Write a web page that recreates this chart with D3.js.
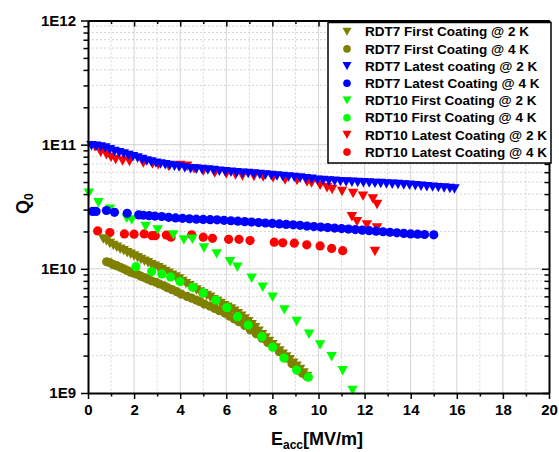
<!DOCTYPE html>
<html><head><meta charset="utf-8">
<script src="https://cdn.jsdelivr.net/npm/d3@7"></script>
<style>body{margin:0;background:#fff;} svg{display:block;font-family:"Liberation Sans",Arial,sans-serif;}</style>
</head><body>
<svg id="chart" width="559" height="452"></svg>
<script>
// ---------- DATA ----------
const seriesNames = ["RDT7 First Coating @ 2 K","RDT7 First Coating @ 4 K","RDT7 Latest coating @ 2 K","RDT7 Latest Coating @ 4 K","RDT10 First Coating @ 2 K","RDT10 First Coating @ 4 K","RDT10 Latest Coating @ 2 K","RDT10 Latest Coating @ 4 K"];
const seriesColors = ["#808000","#808000","#0000ff","#0000ff","#00ff00","#00ff00","#ff0000","#ff0000"];
const seriesShapes = ["tri","circ","tri","circ","tri","circ","tri","circ"];
const xTicks = [0,2,4,6,8,10,12,14,16,18,20];
const yTickLabels = ["1E9","1E10","1E11","1E12"];

const rdt7First2K_E = [0.66,0.8,0.95,1.1,1.25,1.4,1.55,1.7,1.85,2.0,2.15,2.3,2.45,2.6,2.75,2.9,3.05,3.2,3.35,3.5,3.65,3.8,3.95,4.1,4.25,4.4,4.55,4.7,4.85,5.0,5.15,5.3,5.45,5.6,5.75,5.9,6.05,6.2,6.35,6.5,6.65,6.8,6.95,7.1,7.25,7.4,7.55,7.7,7.85,8.0,8.15,8.3,8.45,8.6,8.75,8.9,9.05,9.2,9.35,9.5];
const rdt7First2K_Q = [1.74e10,1.68e10,1.60e10,1.54e10,1.49e10,1.44e10,1.40e10,1.35e10,1.31e10,1.27e10,1.23e10,1.19e10,1.15e10,1.12e10,1.08e10,1.05e10,1.02e10,9.9e9,9.5e9,9.2e9,8.9e9,8.6e9,8.3e9,7.9e9,7.6e9,7.3e9,7.0e9,6.75e9,6.5e9,6.3e9,6.1e9,5.9e9,5.65e9,5.45e9,5.25e9,5.05e9,4.9e9,4.75e9,4.55e9,4.35e9,4.15e9,3.95e9,3.75e9,3.55e9,3.35e9,3.15e9,2.95e9,2.78e9,2.6e9,2.45e9,2.3e9,2.18e9,2.05e9,1.95e9,1.85e9,1.74e9,1.64e9,1.55e9,1.45e9,1.36e9];

const rdt7First4K_E = [0.81,0.95,1.1,1.25,1.4,1.55,1.7,1.85,2.0,2.15,2.3,2.45,2.6,2.75,2.95,3.1,3.3,3.45,3.65,3.85,4.05,4.3,4.5,4.7,4.85,5.05,5.3,5.5,5.7,5.95,6.15,6.35,6.55,6.8,7.05,7.3,7.55,7.8,8.05,8.3,8.6,8.85,9.1,9.3,9.5];
const rdt7First4K_Q = [1.14e10,1.12e10,1.08e10,1.06e10,1.03e10,1.0e10,9.7e9,9.4e9,9.2e9,9.0e9,8.7e9,8.5e9,8.25e9,8.0e9,7.8e9,7.55e9,7.3e9,7.05e9,6.8e9,6.55e9,6.25e9,6.0e9,5.8e9,5.6e9,5.45e9,5.2e9,5.0e9,4.8e9,4.6e9,4.39e9,4.15e9,3.95e9,3.75e9,3.5e9,3.22e9,3.0e9,2.76e9,2.55e9,2.36e9,2.15e9,1.91e9,1.72e9,1.53e9,1.44e9,1.36e9];

const rdt7Latest2K_E = [0.15,0.35,0.55,0.75,0.95,1.15,1.35,1.55,1.75,1.95,2.15,2.35,2.55,2.75,2.95,3.15,3.35,3.55,3.75,3.95,4.2,4.45,4.7,4.95,5.2,5.45,5.7,5.95,6.2,6.45,6.7,6.95,7.2,7.45,7.7,7.95,8.2,8.45,8.7,8.95,9.2,9.45,9.7,9.95,10.2,10.45,10.7,10.95,11.2,11.45,11.7,11.95,12.2,12.45,12.7,12.95,13.2,13.45,13.7,13.95,14.2,14.45,14.7,14.95,15.2,15.45,15.7,15.9];
const rdt7Latest2K_Q = [9.8e10,9.7e10,9.6e10,9.4e10,9.1e10,8.8e10,8.6e10,8.4e10,8.2e10,8.0e10,7.8e10,7.6e10,7.4e10,7.25e10,7.1e10,7.0e10,6.9e10,6.8e10,6.7e10,6.6e10,6.5e10,6.4e10,6.35e10,6.3e10,6.25e10,6.2e10,6.1e10,6.05e10,6.0e10,5.95e10,5.9e10,5.85e10,5.8e10,5.75e10,5.7e10,5.65e10,5.6e10,5.55e10,5.5e10,5.45e10,5.38e10,5.32e10,5.26e10,5.18e10,5.14e10,5.1e10,5.07e10,5.04e10,5.0e10,4.98e10,4.96e10,4.94e10,4.91e10,4.88e10,4.86e10,4.83e10,4.8e10,4.77e10,4.74e10,4.71e10,4.67e10,4.63e10,4.59e10,4.55e10,4.51e10,4.47e10,4.43e10,4.4e10];

const rdt7Latest4K_E = [0.2,0.35,0.8,1.15,1.7,2.2,2.4,2.65,2.9,3.2,3.5,3.8,4.1,4.4,4.7,5.0,5.3,5.6,5.9,6.2,6.5,6.8,7.1,7.4,7.7,8.0,8.3,8.6,8.9,9.2,9.5,9.8,10.1,10.4,10.7,11.0,11.3,11.6,11.9,12.2,12.5,12.8,13.1,13.4,13.7,14.0,14.3,14.6,15.0];
const rdt7Latest4K_Q = [2.9e10,2.9e10,2.95e10,2.85e10,2.8e10,2.72e10,2.7e10,2.68e10,2.66e10,2.64e10,2.6e10,2.57e10,2.55e10,2.53e10,2.51e10,2.5e10,2.49e10,2.48e10,2.46e10,2.44e10,2.42e10,2.4e10,2.38e10,2.36e10,2.34e10,2.32e10,2.3e10,2.28e10,2.26e10,2.24e10,2.21e10,2.19e10,2.17e10,2.15e10,2.13e10,2.11e10,2.09e10,2.07e10,2.05e10,2.03e10,2.01e10,1.99e10,1.97e10,1.95e10,1.93e10,1.91e10,1.9e10,1.89e10,1.88e10];

const rdt10First2K_E = [0.04,0.45,0.95,1.68,1.9,2.5,3.02,3.7,4.16,4.53,5.03,5.58,6.16,6.48,7.1,7.58,8.01,8.52,9.05,9.59,10.07,10.57,11.05,11.48];
const rdt10First2K_Q = [4.06e10,3.41e10,3.02e10,2.55e10,2.47e10,2.19e10,2.06e10,1.87e10,1.71e10,1.73e10,1.47e10,1.32e10,1.14e10,1.03e10,8.4e9,7.1e9,5.9e9,4.67e9,3.76e9,2.97e9,2.44e9,1.96e9,1.51e9,1.05e9];

const rdt10First4K_E = [2.08,2.76,3.2,3.58,3.99,4.54,5.0,5.55,6.02,6.49,6.95,7.54,8.01,8.5,9.05,9.56];
const rdt10First4K_Q = [1.04e10,9.5e9,9.1e9,8.6e9,7.9e9,7.1e9,6.4e9,5.6e9,4.88e9,4.12e9,3.53e9,2.84e9,2.34e9,1.91e9,1.53e9,1.34e9];

const rdt10Latest2K_E = [0.3,0.55,0.8,1.0,1.2,1.5,1.8,2.4,2.8,3.05,3.5,4.0,4.3,4.6,5.0,5.5,6.0,6.4,6.7,7.2,7.6,8.03,8.55,9.07,9.5,9.7,10.07,10.37,10.59,11.02,11.5,11.93,12.36,12.54,11.45,11.67,12.1,12.54,12.45];
const rdt10Latest2K_Q = [9.6e10,8.7e10,8.3e10,7.9e10,7.6e10,7.4e10,7.3e10,7.1e10,7.0e10,6.9e10,6.7e10,6.8e10,6.7e10,6.4e10,6.1e10,5.9e10,5.8e10,5.7e10,5.6e10,5.55e10,5.5e10,5.4e10,5.2e10,5.15e10,5.0e10,4.9e10,4.7e10,4.5e10,4.35e10,4.2e10,4.05e10,3.85e10,3.65e10,3.3e10,2.63e10,2.4e10,2.26e10,2.13e10,1.38e10];

const rdt10Latest4K_E = [0.42,0.95,1.58,2.0,2.44,2.78,2.92,3.4,3.6,4.5,5.0,5.4,6.1,6.55,7.03,8.08,8.45,8.95,9.49,10.07,10.57,11.05];
const rdt10Latest4K_Q = [2.02e10,1.96e10,1.91e10,1.9e10,1.91e10,1.85e10,1.85e10,1.87e10,1.8e10,1.88e10,1.8e10,1.76e10,1.73e10,1.73e10,1.69e10,1.64e10,1.62e10,1.61e10,1.56e10,1.53e10,1.46e10,1.40e10];

const seriesE = [rdt7First2K_E,rdt7First4K_E,rdt7Latest2K_E,rdt7Latest4K_E,rdt10First2K_E,rdt10First4K_E,rdt10Latest2K_E,rdt10Latest4K_E];
const seriesQ = [rdt7First2K_Q,rdt7First4K_Q,rdt7Latest2K_Q,rdt7Latest4K_Q,rdt10First2K_Q,rdt10First4K_Q,rdt10Latest2K_Q,rdt10Latest4K_Q];
// drawing order (bottom to top)
const drawOrder = [7,6,1,0,4,5,3,2];

// ---------- CHART ----------
const svg = d3.select("#chart");
const L = 88, R = 549, T = 20.5, B = 393;
const x = d3.scaleLinear().domain([0,20]).range([L,R]);
const y = d3.scaleLog().domain([1e9,1e12]).range([B,T]);

const minorX = d3.range(1,20,2);
const majorY = [1e9,1e10,1e11,1e12];
const minorY = [];
[1e9,1e10,1e11].forEach(d => { for (let k=2;k<=9;k++) minorY.push(d*k); });

// grid
const grid = svg.append("g");
grid.selectAll(".gvx").data(xTicks.filter(v=>v>0&&v<20)).join("line")
  .attr("x1",d=>x(d)).attr("x2",d=>x(d)).attr("y1",T).attr("y2",B)
  .attr("stroke","#d4d4d4").attr("stroke-width",1);
grid.selectAll(".gmx").data(minorX).join("line")
  .attr("x1",d=>x(d)).attr("x2",d=>x(d)).attr("y1",T).attr("y2",B)
  .attr("stroke","#d4d4d4").attr("stroke-width",1).attr("stroke-dasharray","2,2");
grid.selectAll(".gvy").data([1e10,1e11]).join("line")
  .attr("x1",L).attr("x2",R).attr("y1",d=>y(d)).attr("y2",d=>y(d))
  .attr("stroke","#d4d4d4").attr("stroke-width",1);
grid.selectAll(".gmy").data(minorY).join("line")
  .attr("x1",L).attr("x2",R).attr("y1",d=>y(d)).attr("y2",d=>y(d))
  .attr("stroke","#d4d4d4").attr("stroke-width",1).attr("stroke-dasharray","2,2");

// markers
function triPath(s){ const w=s, h=s*0.9; return `M${-w/2},${-h/2}L${w/2},${-h/2}L0,${h/2}Z`; }
const marks = svg.append("g");
drawOrder.forEach(i => {
  const pts = seriesE[i].map((e,j)=>({e, q: seriesQ[i][j]}));
  const g = marks.append("g");
  if (seriesShapes[i]==="tri") {
    g.selectAll("path").data(pts).join("path")
      .attr("d", triPath(10.5))
      .attr("transform", d=>`translate(${x(d.e)},${y(d.q)})`)
      .attr("fill", seriesColors[i]);
  } else {
    g.selectAll("circle").data(pts).join("circle")
      .attr("cx", d=>x(d.e)).attr("cy", d=>y(d.q)).attr("r",4.6)
      .attr("fill", seriesColors[i]);
  }
});

// axes
const fmtY = d => yTickLabels[majorY.indexOf(d)];
const axStyle = g => {
  g.selectAll(".domain").attr("stroke","#000").attr("stroke-width",2);
  g.selectAll(".tick line").attr("stroke","#000").attr("stroke-width",1.5);
  g.selectAll("text").attr("font-family","'Liberation Sans',Arial,sans-serif").attr("font-weight","bold").attr("font-size","15px").attr("fill","#000");
};
// bottom
svg.append("g").attr("transform",`translate(0,${B})`)
  .call(d3.axisBottom(x).tickValues(xTicks).tickFormat(d3.format("d")).tickSizeInner(6).tickSizeOuter(0).tickPadding(5))
  .call(axStyle);
svg.append("g").attr("transform",`translate(0,${B})`)
  .call(d3.axisBottom(x).tickValues(minorX).tickFormat("").tickSizeInner(3.5).tickSizeOuter(0))
  .call(axStyle).select(".domain").remove();
// top
svg.append("g").attr("transform",`translate(0,${T})`)
  .call(d3.axisTop(x).tickValues(xTicks).tickFormat("").tickSizeInner(-6).tickSizeOuter(0))
  .call(axStyle);
svg.append("g").attr("transform",`translate(0,${T})`)
  .call(d3.axisTop(x).tickValues(minorX).tickFormat("").tickSizeInner(-3.5).tickSizeOuter(0))
  .call(axStyle).select(".domain").remove();
// left
svg.append("g").attr("transform",`translate(${L},0)`)
  .call(d3.axisLeft(y).tickValues(majorY).tickFormat(fmtY).tickSizeInner(7).tickSizeOuter(0).tickPadding(5))
  .call(axStyle);
svg.append("g").attr("transform",`translate(${L},0)`)
  .call(d3.axisLeft(y).tickValues(minorY).tickFormat("").tickSizeInner(4.5).tickSizeOuter(0))
  .call(axStyle).select(".domain").remove();
// right
svg.append("g").attr("transform",`translate(${R},0)`)
  .call(d3.axisRight(y).tickValues(majorY).tickFormat("").tickSizeInner(-7).tickSizeOuter(0))
  .call(axStyle);
svg.append("g").attr("transform",`translate(${R},0)`)
  .call(d3.axisRight(y).tickValues(minorY).tickFormat("").tickSizeInner(-4.5).tickSizeOuter(0))
  .call(axStyle).select(".domain").remove();

// axis titles
const xt = svg.append("text").attr("x",271).attr("y",445)
  .attr("font-weight","bold").attr("font-size","18px").attr("fill","#000");
xt.append("tspan").text("E");
xt.append("tspan").attr("font-size","12px").attr("dy",4).text("acc");
xt.append("tspan").attr("dy",-4).text("[MV/m]");

const yt = svg.append("text").attr("transform","translate(29,214) rotate(-90)")
  .attr("font-weight","bold").attr("font-size","18px").attr("fill","#000");
yt.append("tspan").text("Q");
yt.append("tspan").attr("font-size","12px").attr("dy",4).text("0");

// legend
const lg = svg.append("g");
lg.append("rect").attr("x",328).attr("y",22.5).attr("width",223).attr("height",140.5)
  .attr("fill","#fff").attr("stroke","#000").attr("stroke-width",1.5);
seriesNames.forEach((name,i) => {
  const cy = 31.7 + i*17.2;
  if (seriesShapes[i]==="tri") {
    lg.append("path").attr("d", triPath(9)).attr("transform",`translate(347,${cy})`).attr("fill",seriesColors[i]);
  } else {
    lg.append("circle").attr("cx",347).attr("cy",cy).attr("r",3.8).attr("fill",seriesColors[i]);
  }
  lg.append("text").attr("x",365).attr("y",cy+4.7).attr("font-weight","bold").attr("font-size","13.5px").attr("fill","#000").text(name);
});
</script>
</body></html>
